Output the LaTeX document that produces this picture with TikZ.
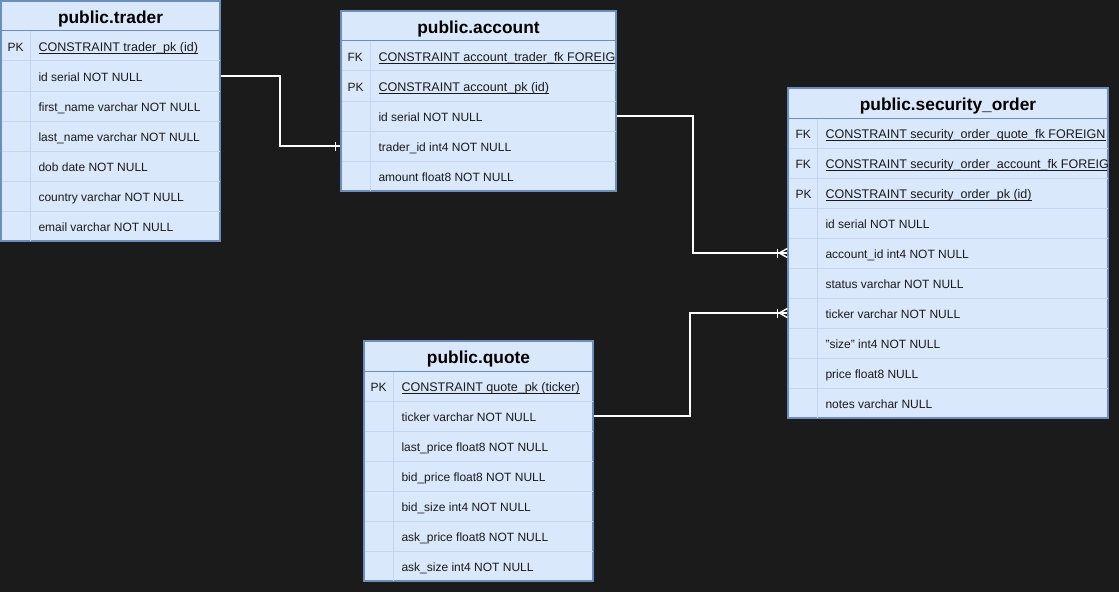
\documentclass[tikz,border=0pt]{standalone}
\usepackage{fontspec}
\setmainfont{Liberation Sans}
\usetikzlibrary{fit,calc}

\newsavebox{\keylinebox}
\newcommand{\keyline}[1]{\sbox{\keylinebox}{#1}\rlap{\rule[-1.9pt]{\wd\keylinebox}{0.6pt}}\usebox{\keylinebox}}

\definecolor{canvasbg}{HTML}{1B1B1B}
\definecolor{tblfill}{HTML}{DAE8FC}
\definecolor{tblborder}{HTML}{6C8EBF}
\definecolor{tblrule}{HTML}{C6D6EC}
\definecolor{tbltext}{HTML}{1A1A1A}

\tikzset{every picture/.style={line width=0.75pt}}
\tikzset{
  tblbox/.style={draw=tblborder, fill=tblfill, inner sep=0pt, line width=1pt},
  tbltitle/.style={inner sep=0pt, text height=11pt, text depth=0pt, text=black, font=\bfseries\fontsize{13}{15}\selectfont},
  keytext/.style={anchor=west, inner sep=0pt, text height=7.5pt, text depth=0pt, text=tbltext, font=\fontsize{9}{11}\selectfont},
  coltext/.style={keytext},
  pktext/.style={keytext, font=\fontsize{9.4}{11}\selectfont},
  titlerule/.style={draw=tblborder, line width=0.75pt},
  rowrule/.style={draw=tblrule, line width=0.75pt},
  relline/.style={draw=white, line width=1.5pt},
  relmark/.style={draw=white, line width=1.1pt},
}

\begin{document}
\begin{tikzpicture}[x=0.75pt,y=0.75pt,yscale=-1,xscale=1]
    %set diagram to 1119 x 592
    \fill [canvasbg] (0,0) rectangle (1119,592);
    \useasboundingbox (0,0) rectangle (1119,592);

    %Table [public.trader]
    \node [tblbox, fit={(1,1) (220,241)}] (trader) {};
    \draw [titlerule] (1,31) -- (220,31);
    \foreach \y in {61,91,...,211} \draw [rowrule] (1.5,\y) -- (219.5,\y);
    \draw [rowrule] (30,31.5) -- (30,240.5);
    % Text Node
    \node [tbltitle] (trader-title) at (110.5,16) {public.trader};
    \node [keytext] (trader-pkkey) at (7,46) {PK};
    \node [pktext] (trader-pk) at (38,46) {\keyline{CONSTRAINT trader\_pk (id)}};
    \node [coltext] (trader-id) at (38,76) {id serial NOT NULL};
    \node [coltext] (trader-firstname) at (38,106) {first\_name varchar NOT NULL};
    \node [coltext] (trader-lastname) at (38,136) {last\_name varchar NOT NULL};
    \node [coltext] (trader-dob) at (38,166) {dob date NOT NULL};
    \node [coltext] (trader-country) at (38,196) {country varchar NOT NULL};
    \node [coltext] (trader-email) at (38,226) {email varchar NOT NULL};

    %Table [public.account]
    \node [tblbox, fit={(341,11) (616,191)}] (account) {};
    \draw [titlerule] (341,41) -- (616,41);
    \foreach \y in {71,101,...,161} \draw [rowrule] (341.5,\y) -- (615.5,\y);
    \draw [rowrule] (370,41.5) -- (370,190.5);
    % Text Node
    \node [tbltitle] (account-title) at (478.5,26) {public.account};
    \begin{scope}
    \clip (341,41) rectangle (615,191);
    \node [keytext] (account-fkkey) at (347,56) {FK};
    \node [pktext] (account-fk) at (378,56) {\keyline{CONSTRAINT account\_trader\_fk FOREIGN}};
    \node [keytext] (account-pkkey) at (347,86) {PK};
    \node [pktext] (account-pk) at (378,86) {\keyline{CONSTRAINT account\_pk (id)}};
    \node [coltext] (account-id) at (378,116) {id serial NOT NULL};
    \node [coltext] (account-traderid) at (378,146) {trader\_id int4 NOT NULL};
    \node [coltext] (account-amount) at (378,176) {amount float8 NOT NULL};
    \end{scope}

    %Table [public.security_order]
    \node [tblbox, fit={(788,88) (1108,418)}] (secorder) {};
    \draw [titlerule] (788,118) -- (1108,118);
    \foreach \y in {148,178,...,388} \draw [rowrule] (788.5,\y) -- (1107.5,\y);
    \draw [rowrule] (817,118.5) -- (817,417.5);
    % Text Node
    \node [tbltitle] (secorder-title) at (948,103) {public.security\_order};
    \begin{scope}
    \clip (788,118) rectangle (1107,418);
    \node [keytext] (secorder-fkkey-a) at (795,133) {FK};
    \node [pktext] (secorder-quotefk) at (825,133) {\keyline{CONSTRAINT security\_order\_quote\_fk FOREIGN}};
    \node [keytext] (secorder-fkkey-b) at (795,163) {FK};
    \node [pktext] (secorder-accountfk) at (825,163) {\keyline{CONSTRAINT security\_order\_account\_fk FOREIGN}};
    \node [keytext] (secorder-pkkey) at (795,193) {PK};
    \node [pktext] (secorder-pk) at (825,193) {\keyline{CONSTRAINT security\_order\_pk (id)}};
    \node [coltext] (secorder-id) at (825,223) {id serial NOT NULL};
    \node [coltext] (secorder-accountid) at (825,253) {account\_id int4 NOT NULL};
    \node [coltext] (secorder-status) at (825,283) {status varchar NOT NULL};
    \node [coltext] (secorder-ticker) at (825,313) {ticker varchar NOT NULL};
    \node [coltext] (secorder-size) at (825,343) {"size" int4 NOT NULL};
    \node [coltext] (secorder-price) at (825,373) {price float8 NULL};
    \node [coltext] (secorder-notes) at (825,403) {notes varchar NULL};
    \end{scope}

    %Table [public.quote]
    \node [tblbox, fit={(364,341) (593,581)}] (quote) {};
    \draw [titlerule] (364,371) -- (593,371);
    \foreach \y in {401,431,...,551} \draw [rowrule] (364.5,\y) -- (592.5,\y);
    \draw [rowrule] (393,371.5) -- (393,580.5);
    % Text Node
    \node [tbltitle] (quote-title) at (478.5,356) {public.quote};
    \node [keytext] (quote-pkkey) at (370,386) {PK};
    \node [pktext] (quote-pk) at (401,386) {\keyline{CONSTRAINT quote\_pk (ticker)}};
    \node [coltext] (quote-ticker) at (401,416) {ticker varchar NOT NULL};
    \node [coltext] (quote-lastprice) at (401,446) {last\_price float8 NOT NULL};
    \node [coltext] (quote-bidprice) at (401,476) {bid\_price float8 NOT NULL};
    \node [coltext] (quote-bidsize) at (401,506) {bid\_size int4 NOT NULL};
    \node [coltext] (quote-askprice) at (401,536) {ask\_price float8 NOT NULL};
    \node [coltext] (quote-asksize) at (401,566) {ask\_size int4 NOT NULL};

    %Relations
    % trader.id -> account.trader_id (one)
    \draw [relline] (trader-id -| trader.east) -- ++(59,0) |- (account-traderid -| account.west);
    \draw [relmark] ($(account-traderid -| account.west)+(-5,-4.5)$) -- ++(0,9);
    % account.id -> security_order.account_id (many)
    \draw [relline] (account-id -| account.east) -- ++(76,0) |- (secorder-accountid -| secorder.west);
    \draw [relmark] ($(secorder-accountid -| secorder.west)+(-10,-4.5)$) -- ++(0,9);
    \draw [relmark] ($(secorder-accountid -| secorder.west)+(0,-4.5)$) -- ++(-8,4.5) -- ++(8,4.5);
    % quote.ticker -> security_order.ticker (many)
    \draw [relline] (quote-ticker -| quote.east) -- ++(96,0) |- (secorder-ticker -| secorder.west);
    \draw [relmark] ($(secorder-ticker -| secorder.west)+(-10,-4.5)$) -- ++(0,9);
    \draw [relmark] ($(secorder-ticker -| secorder.west)+(0,-4.5)$) -- ++(-8,4.5) -- ++(8,4.5);

\end{tikzpicture}
\end{document}
